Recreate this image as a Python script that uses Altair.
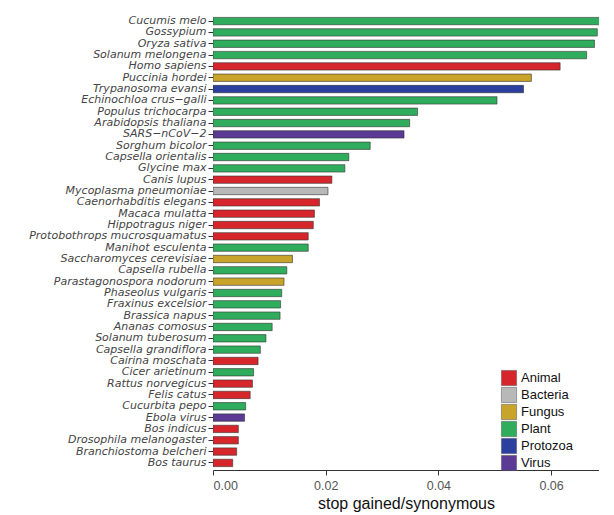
import altair as alt
import pandas as pd

species = ["Cucumis melo", "Gossypium", "Oryza sativa", "Solanum melongena", "Homo sapiens",
           "Puccinia hordei", "Trypanosoma evansi", "Echinochloa crus−galli", "Populus trichocarpa",
           "Arabidopsis thaliana", "SARS−nCoV−2", "Sorghum bicolor", "Capsella orientalis",
           "Glycine max", "Canis lupus", "Mycoplasma pneumoniae", "Caenorhabditis elegans",
           "Macaca mulatta", "Hippotragus niger", "Protobothrops mucrosquamatus", "Manihot esculenta",
           "Saccharomyces cerevisiae", "Capsella rubella", "Parastagonospora nodorum",
           "Phaseolus vulgaris", "Fraxinus excelsior", "Brassica napus", "Ananas comosus",
           "Solanum tuberosum", "Capsella grandiflora", "Cairina moschata", "Cicer arietinum",
           "Rattus norvegicus", "Felis catus", "Cucurbita pepo", "Ebola virus", "Bos indicus",
           "Drosophila melanogaster", "Branchiostoma belcheri", "Bos taurus"]
ratio = [0.0686, 0.0682, 0.0677, 0.0663, 0.0616, 0.0565, 0.0551, 0.0504, 0.0363, 0.0349,
         0.0339, 0.0279, 0.0241, 0.0234, 0.0211, 0.0204, 0.0189, 0.0180, 0.0178, 0.0169,
         0.0169, 0.0141, 0.0131, 0.0126, 0.0122, 0.0120, 0.0119, 0.0105, 0.0094, 0.0084,
         0.0080, 0.0072, 0.0070, 0.0066, 0.0058, 0.0056, 0.0045, 0.0045, 0.0042, 0.0035]
kingdom = ["Plant", "Plant", "Plant", "Plant", "Animal", "Fungus", "Protozoa", "Plant", "Plant",
           "Plant", "Virus", "Plant", "Plant", "Plant", "Animal", "Bacteria", "Animal", "Animal",
           "Animal", "Animal", "Plant", "Fungus", "Plant", "Fungus", "Plant", "Plant", "Plant",
           "Plant", "Plant", "Plant", "Animal", "Plant", "Animal", "Animal", "Plant", "Virus",
           "Animal", "Animal", "Animal", "Animal"]
groups = ["Animal", "Bacteria", "Fungus", "Plant", "Protozoa", "Virus"]
colors = ["#d7262b", "#b8b8b8", "#c9a42a", "#2fad5c", "#2b3f9f", "#5a3a94"]

df = pd.DataFrame({"species": species, "ratio": ratio, "kingdom": kingdom})

chart = alt.Chart(df).mark_bar(stroke="#333", strokeWidth=0.6, clip=True).encode(
    x=alt.X("ratio:Q", title="stop gained/synonymous",
            scale=alt.Scale(domain=[0, 0.0685], nice=False),
            axis=alt.Axis(values=[0, 0.02, 0.04, 0.06], format=".2f", grid=False,
                          domainColor="#333", tickColor="#333", labelColor="#555",
                          labelFontSize=12.5, titleFontSize=16, titleFontWeight="normal",
                          titleColor="#111", labelPadding=4, titlePadding=4,
                          labelFont="Liberation Sans", titleFont="Liberation Sans")),
    y=alt.Y("species:N", sort=species, title=None,
            scale=alt.Scale(paddingInner=0.35, paddingOuter=0.3),
            axis=alt.Axis(labelFontStyle="italic", labelFontSize=11, labelColor="#444",
                          labelFont="DejaVu Sans",
                          domain=False, tickColor="#333", labelLimit=300, labelPadding=2)),
    color=alt.Color("kingdom:N", title=None,
                    scale=alt.Scale(domain=groups, range=colors),
                    legend=alt.Legend(orient="none", legendX=288, legendY=356,
                                      symbolType="square", symbolSize=230,
                                      symbolStrokeColor="#555", symbolStrokeWidth=0.5,
                                      labelFont="Liberation Sans",
                                      labelFontSize=13, labelColor="#111", rowPadding=-2)),
).properties(width=386, height=456, padding={"left": 20, "top": 6, "right": 0, "bottom": 5})

chart = chart.configure_view(stroke=None)
chart.save("out.html", embed_options={"renderer": "svg", "actions": False})
